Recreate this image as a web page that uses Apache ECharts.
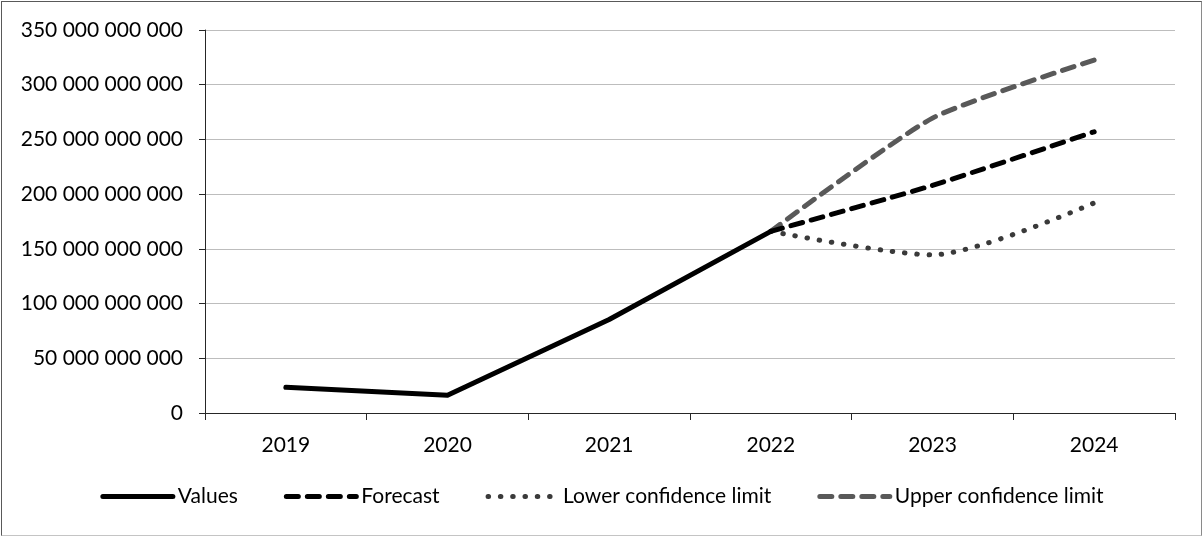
<!DOCTYPE html>
<html>
<head>
<meta charset="utf-8">
<script src="https://cdn.jsdelivr.net/npm/echarts@6/dist/echarts.min.js"></script>
<style>
  html, body { margin: 0; padding: 0; background: #fff; }
  #wrap { position: relative; width: 1204px; height: 537px; }
  #chart { position: absolute; left: 0; top: 0; width: 1204px; height: 537px; }
  #frame {
    position: absolute; left: 1px; top: 1px; width: 1201px; height: 535px;
    box-sizing: border-box;
    border-top: 1px solid #595959; border-left: 1px solid #595959;
    border-right: 1px solid #8a8a8a; border-bottom: 1px solid #c4c4c4;
    pointer-events: none;
  }
</style>
</head>
<body>
<div id="wrap">
  <div id="chart"></div>
  <div id="frame"></div>
</div>
<script>
// Years on the horizontal axis
const years = ['2019', '2020', '2021', '2022', '2023', '2024'];

// Observed values (history up to 2022)
const values = [23.5e9, 16.2e9, 85.5e9, 166e9, null, null];

// Forecast and its confidence band, starting from the last observed year
const forecast = [null, null, null, 166e9, 208e9, 257e9];
const lowerLimit = [null, null, null, 166e9, 144.5e9, 192e9];
const upperLimit = [null, null, null, 166e9, 269.5e9, 322.5e9];

// Value axis range
const yMin = 0;
const yMax = 350e9;
const yStep = 50e9;

const FONT = 'Lato, "Open Sans", sans-serif';
const FONT_SIZE = 21;

// Line looks shared by the plotted series and their legend keys
const styles = {
  'Values': { color: '#000000', width: 5, type: 'solid' },
  'Forecast': { color: '#000000', width: 5, type: [12, 9] },
  'Lower confidence limit': { color: '#3a3a3a', width: 5, type: [0.5, 11.8] },
  'Upper confidence limit': { color: '#595959', width: 5, type: [12, 9] }
};

// 350000000000 -> "350 000 000 000"
function groupDigits(v) {
  return String(Math.round(v)).replace(/\B(?=(\d{3})+(?!\d))/g, ' ');
}

function lineStyleOf(name) {
  const s = styles[name];
  return { color: s.color, width: s.width, type: s.type, cap: 'round', join: 'round' };
}

function lineSeries(name, data, smooth, z) {
  return {
    name: name,
    type: 'line',
    data: data,
    symbol: 'none',
    smooth: smooth,
    color: styles[name].color,
    lineStyle: lineStyleOf(name),
    z: z
  };
}

const legendNames = ['Values', 'Forecast', 'Lower confidence limit', 'Upper confidence limit'];

const chart = echarts.init(document.getElementById('chart'), null, { renderer: 'canvas' });

chart.setOption({
  animation: false,
  backgroundColor: '#ffffff',
  textStyle: { fontFamily: FONT, color: '#000' },
  grid: { left: 205, right: 29, top: 30, bottom: 124, containLabel: false },
  legend: {
    bottom: 25,
    left: 'center',
    itemWidth: 70,
    itemHeight: 12,
    itemGap: 46,
    textStyle: { fontFamily: FONT, fontSize: FONT_SIZE, color: '#000' },
    data: legendNames.map(function (n) {
      return {
        name: n,
        itemStyle: { opacity: 0 },
        lineStyle: lineStyleOf(n)
      };
    })
  },
  xAxis: {
    type: 'category',
    data: years,
    boundaryGap: true,
    axisLine: { show: true, lineStyle: { color: '#262626', width: 1 } },
    axisTick: { show: true, inside: false, length: 7, alignWithLabel: false, lineStyle: { color: '#262626' } },
    axisLabel: { fontFamily: FONT, fontSize: FONT_SIZE, color: '#000', margin: 22 },
    splitLine: { show: false }
  },
  yAxis: {
    type: 'value',
    min: yMin,
    max: yMax,
    interval: yStep,
    axisLine: { show: true, lineStyle: { color: '#262626', width: 1 } },
    axisTick: { show: true, inside: false, length: 6, lineStyle: { color: '#262626' } },
    axisLabel: { fontFamily: FONT, fontSize: FONT_SIZE, color: '#000', margin: 22, formatter: groupDigits },
    splitLine: { show: true, lineStyle: { color: '#bdbdbd', width: 1 } }
  },
  series: [
    lineSeries('Values', values, false, 5),
    lineSeries('Forecast', forecast, 0.2, 4),
    lineSeries('Lower confidence limit', lowerLimit, 0.25, 3),
    lineSeries('Upper confidence limit', upperLimit, 0.2, 3)
  ]
});
</script>
</body>
</html>
